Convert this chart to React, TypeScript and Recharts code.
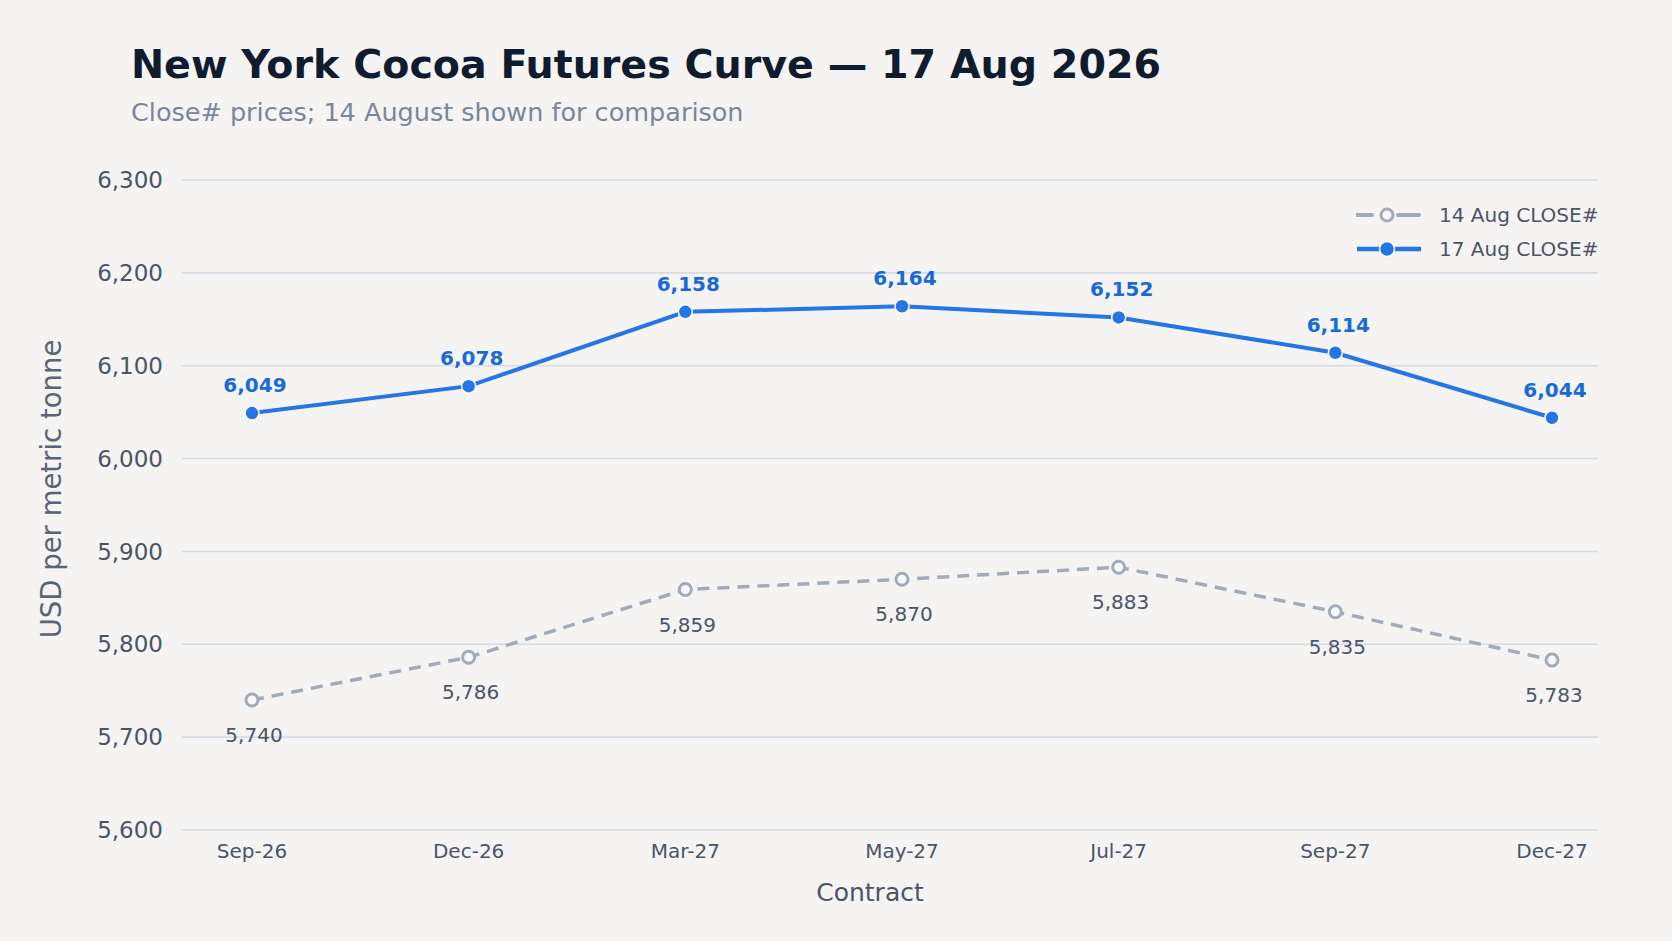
import React from "react";
import {
  LineChart,
  Line,
  XAxis,
  YAxis,
  CartesianGrid,
  Legend,
  LabelList,
} from "recharts";

// Contract months and closing prices (USD / t)
const contracts = ["Sep-26", "Dec-26", "Mar-27", "May-27", "Jul-27", "Sep-27", "Dec-27"];
const close14Aug = [5740, 5786, 5859, 5870, 5883, 5835, 5783];
const close17Aug = [6049, 6078, 6158, 6164, 6152, 6114, 6044];
const yTicks = [5600, 5700, 5800, 5900, 6000, 6100, 6200, 6300];

const data = contracts.map((c, i) => ({
  contract: c,
  aug14: close14Aug[i],
  aug17: close17Aug[i],
}));

const FONT = "'DejaVu Sans', Verdana, sans-serif";
const BG = "#f5f4f2";
const BLUE = "#2575e6";
const BLUE_TEXT = "#1769dc";
const GREY = "#a2abba";
const INK = "#4a5568";

const fmt = (v: number) => v.toLocaleString("en-US");

function pointOf(props: any) {
  const x = props.x ?? props.viewBox?.x ?? 0;
  const y = props.y ?? props.viewBox?.y ?? 0;
  return { x, y };
}

function BlueLabel(props: any) {
  const { x, y } = pointOf(props);
  return (
    <text
      x={x + 3}
      y={y - 21}
      textAnchor="middle"
      fontFamily={FONT}
      fontSize={20}
      fontWeight="bold"
      fill={BLUE_TEXT}
    >
      {fmt(Number(props.value))}
    </text>
  );
}

function GreyLabel(props: any) {
  const { x, y } = pointOf(props);
  return (
    <text
      x={x + 2}
      y={y + 42}
      textAnchor="middle"
      fontFamily={FONT}
      fontSize={20}
      fill={INK}
    >
      {fmt(Number(props.value))}
    </text>
  );
}

function LegendContent() {
  const rows = [
    { name: "14 Aug CLOSE#", color: GREY, hollow: true },
    { name: "17 Aug CLOSE#", color: BLUE, hollow: false },
  ];
  return (
    <div style={{ fontFamily: FONT }}>
      {rows.map((r) => (
        <div key={r.name} style={{ display: "flex", alignItems: "center", height: 34 }}>
          <svg width={66} height={20} style={{ marginRight: 17 }}>
            {r.hollow ? (
              <>
                <line x1={1} y1={10} x2={16} y2={10} stroke={r.color} strokeWidth={4} strokeLinecap="round" />
                <line x1={42} y1={10} x2={63} y2={10} stroke={r.color} strokeWidth={4} strokeLinecap="round" />
                <circle cx={31} cy={10} r={6} fill="#f8f8f8" stroke={r.color} strokeWidth={3} />
              </>
            ) : (
              <>
                <line x1={1} y1={10} x2={65} y2={10} stroke={r.color} strokeWidth={4.5} />
                <circle cx={31} cy={10} r={7.5} fill={r.color} stroke="#ffffff" strokeWidth={1.5} />
              </>
            )}
          </svg>
          <span style={{ fontSize: 20, color: INK, whiteSpace: "nowrap" }}>{r.name}</span>
        </div>
      ))}
    </div>
  );
}

export default function App() {
  return (
    <div
      style={{
        position: "absolute",
        left: 0,
        top: 0,
        width: 1672,
        height: 941,
        background: BG,
        fontFamily: FONT,
        overflow: "hidden",
      }}
    >
      <div
        style={{
          position: "absolute",
          left: 131,
          top: 44,
          fontSize: 39.6,
          lineHeight: "40px",
          fontWeight: "bold",
          color: "#0f1b2e",
          whiteSpace: "nowrap",
        }}
      >
        New York Cocoa Futures Curve — 17 Aug 2026
      </div>
      <div
        style={{
          position: "absolute",
          left: 131,
          top: 99,
          fontSize: 25.5,
          lineHeight: "26px",
          color: "#7a8699",
          whiteSpace: "nowrap",
        }}
      >
        Close# prices; 14 August shown for comparison
      </div>

      <LineChart
        width={1672}
        height={941}
        data={data}
        margin={{ top: 180, right: 74, bottom: 0, left: 0 }}
        style={{ position: "absolute", left: 0, top: 0 }}
      >
        <CartesianGrid vertical={false} stroke="#d6dbe4" strokeWidth={1.6} />
        <XAxis
          dataKey="contract"
          axisLine={false}
          tickLine={false}
          height={111}
          tickMargin={8}
          padding={{ left: 70, right: 46 }}
          tick={{ fontSize: 20, fill: INK, fontFamily: FONT }}
          label={{
            content: (p: any) => {
              const vb = p.viewBox || {};
              return (
                <text
                  x={870}
                  y={(vb.y ?? 830) + 71}
                  textAnchor="middle"
                  fontFamily={FONT}
                  fontSize={25}
                  fill={INK}
                >
                  Contract
                </text>
              );
            },
          }}
        />
        <YAxis
          type="number"
          domain={[5600, 6300]}
          ticks={yTicks}
          axisLine={false}
          tickLine={false}
          width={182}
          tickMargin={13}
          tickFormatter={(v: number) => fmt(v)}
          tick={{ fontSize: 23, fill: INK, fontFamily: FONT }}
          label={{
            content: (p: any) => {
              const vb = p.viewBox || {};
              const cy = (vb.y ?? 180) + (vb.height ?? 650) / 2 - 16;
              return (
                <text
                  x={61}
                  y={cy}
                  transform={`rotate(-90 61 ${cy})`}
                  textAnchor="middle"
                  fontFamily={FONT}
                  fontSize={27.5}
                  fill="#5a6477"
                >
                  USD per metric tonne
                </text>
              );
            },
          }}
        />
        <Legend
          layout="vertical"
          align="center"
          verticalAlign="middle"
          content={<LegendContent />}
          wrapperStyle={{ position: "absolute", top: 198, left: 1356, width: 260, height: 68 }}
        />
        <Line
          type="linear"
          dataKey="aug14"
          name="14 Aug CLOSE#"
          stroke={GREY}
          strokeWidth={3.5}
          strokeDasharray="12 8"
          dot={{ r: 6, fill: "#f8f8f8", stroke: GREY, strokeWidth: 3, strokeDasharray: "none" }}
          activeDot={false}
          isAnimationActive={false}
        >
          <LabelList dataKey="aug14" content={<GreyLabel />} />
        </Line>
        <Line
          type="linear"
          dataKey="aug17"
          name="17 Aug CLOSE#"
          stroke={BLUE}
          strokeWidth={4}
          dot={{ r: 7, fill: BLUE, stroke: "#ffffff", strokeWidth: 1.5 }}
          activeDot={false}
          isAnimationActive={false}
        >
          <LabelList dataKey="aug17" content={<BlueLabel />} />
        </Line>
      </LineChart>
    </div>
  );
}
